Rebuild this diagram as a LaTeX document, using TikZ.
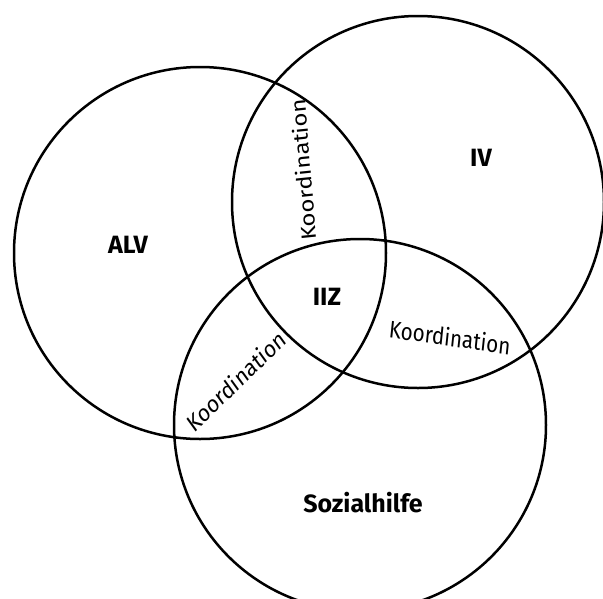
\documentclass[tikz,border=0pt]{standalone}
\usepackage{fontspec}
\setmainfont{Fira Sans}

\begin{document}
\begin{tikzpicture}[x=1pt, y=-1pt,
  ring/.style={circle, draw, line width=2.5pt, minimum size=372pt, inner sep=0pt},
  label/.style={font=\fontsize{25}{30}\selectfont\bfseries},
  koord/.style={font=\fontsize{24}{28}\selectfont, xscale=0.86, inner sep=0pt}]
\useasboundingbox (0,0) rectangle (603,598);
% the three circles
\node[ring] (alv) at (200,253) {};
\node[ring] (iv) at (418,202) {};
\node[ring] (soz) at (360,425) {};
% names
\node[label] (alvname) at (128,245) {ALV};
\node[label] (ivname) at (481,158) {IV};
\node[label] (iiz) at (327,297) {IIZ};
\node[label] (sozname) at (363,503) {Sozialhilfe};
% overlaps
\node[koord, rotate=95] (koordtop) at (303,170) {Koordination};
\node[koord, rotate=40] (koordleft) at (236,381) {Koordination};
\node[koord, rotate=-7] (koordright) at (450,337) {Koordination};
\end{tikzpicture}
\end{document}
